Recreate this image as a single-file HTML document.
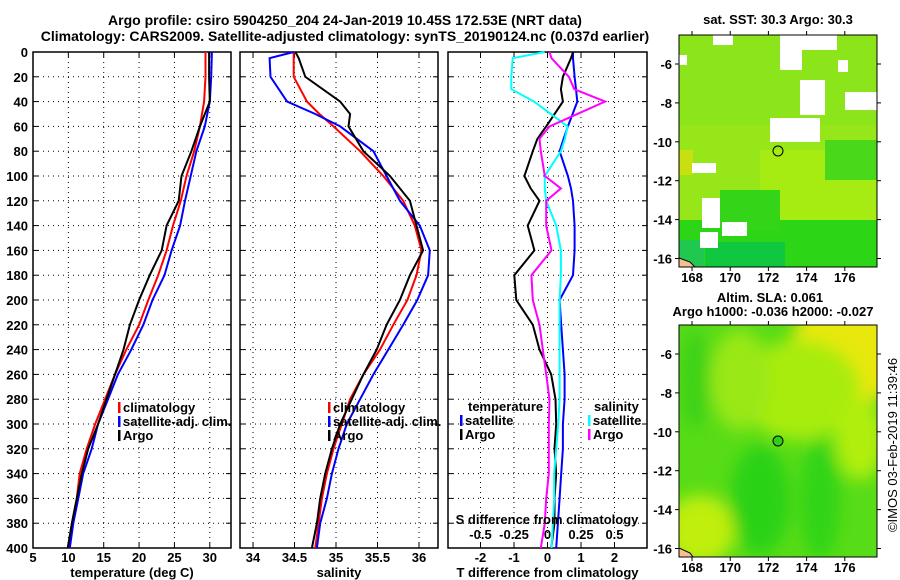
<!DOCTYPE html>
<html><head><meta charset="utf-8">
<style>
body{margin:0;background:#fff;}
svg{display:block;font-family:"Liberation Sans",sans-serif;font-weight:bold;}
text{font-size:13px;fill:#000;}
</style></head>
<body>
<svg id="fig" width="900" height="580" viewBox="0 0 900 580" xmlns="http://www.w3.org/2000/svg">
<text x="345" y="25" text-anchor="middle" style="font-size:14px">Argo profile: csiro 5904250_204 24-Jan-2019 10.45S 172.53E (NRT data)</text>
<text x="345" y="41" text-anchor="middle" style="font-size:14px">Climatology: CARS2009. Satellite-adjusted climatology: synTS_20190124.nc (0.037d earlier)</text>
<g id="maps">
  <defs>
    <clipPath id="c1"><rect x="679" y="35" width="198" height="232"/></clipPath>
    <clipPath id="c2"><rect x="679" y="325" width="198" height="232"/></clipPath>
    <filter id="bl"><feGaussianBlur stdDeviation="8"/></filter>
  </defs>
  <g clip-path="url(#c1)">
    <rect x="679" y="35" width="198" height="232" fill="#96e61a"/>
    <rect x="679" y="35" width="198" height="90" fill="#8ce41a"/>
    <rect x="760" y="150" width="117" height="70" fill="#a6ec12"/>
    <rect x="679" y="220" width="198" height="47" fill="#2cd616"/>
    <rect x="720" y="190" width="60" height="40" fill="#34d418"/>
    <rect x="825" y="140" width="52" height="40" fill="#4ad81a"/>
    <rect x="679" y="150" width="14" height="25" fill="#c8e010"/>
    <rect x="705" y="242" width="80" height="25" fill="#10c840"/>
    <rect x="679" y="240" width="25" height="27" fill="#20c850"/>
    <g fill="#fff">
      <rect x="713" y="35" width="20" height="10"/><rect x="679" y="55" width="8" height="10"/>
      <rect x="780" y="35" width="22" height="35"/><rect x="802" y="35" width="35" height="15"/>
      <rect x="800" y="80" width="25" height="35"/><rect x="770" y="118" width="50" height="24"/>
      <rect x="845" y="92" width="32" height="18"/><rect x="702" y="198" width="18" height="30"/>
      <rect x="722" y="222" width="25" height="14"/><rect x="692" y="163" width="24" height="10"/>
      <rect x="700" y="232" width="18" height="16"/><rect x="838" y="60" width="10" height="12"/>
    </g>
    <path d="M679 258 L690 262 L695 267 L679 267Z" fill="#f4c090" stroke="#000"/>
  </g>
  <rect x="679" y="35" width="198" height="232" fill="none" stroke="#000"/>
  <circle cx="778" cy="151" r="5" fill="none" stroke="#000"/>
  <g clip-path="url(#c2)">
    <rect x="679" y="325" width="198" height="232" fill="#58dc18"/>
    <g filter="url(#bl)">
      <ellipse cx="850" cy="350" rx="60" ry="55" fill="#e8e808"/>
      <ellipse cx="800" cy="390" rx="60" ry="50" fill="#a8ec10"/>
      <ellipse cx="740" cy="380" rx="30" ry="50" fill="#9ae814"/>
      <ellipse cx="860" cy="440" rx="25" ry="40" fill="#b0ee10"/>
      <ellipse cx="700" cy="530" rx="35" ry="35" fill="#c0ee10"/>
      <ellipse cx="760" cy="500" rx="30" ry="55" fill="#2cd218"/>
      <ellipse cx="820" cy="500" rx="20" ry="60" fill="#30d418"/>
      <ellipse cx="695" cy="380" rx="15" ry="50" fill="#3cd218"/>
    </g>
    <path d="M679 548 L690 553 L693 557 L679 557Z" fill="#f4c090" stroke="#000"/>
  </g>
  <rect x="679" y="325" width="198" height="232" fill="none" stroke="#000"/>
  <circle cx="778" cy="441" r="5" fill="#30d018" stroke="#000"/>
  <text x="778" y="24" text-anchor="middle">sat. SST: 30.3 Argo: 30.3</text>
  <text x="770" y="302" text-anchor="middle">Altim. SLA: 0.061</text>
  <text x="773" y="316" text-anchor="middle">Argo h1000: -0.036 h2000: -0.027</text>
  <text transform="translate(897,445) rotate(-90)" text-anchor="middle" style="font-weight:normal">©IMOS 03-Feb-2019 11:39:46</text>
</g>
</svg>
<script>
const depths = [0,20,40,60,80,100,120,140,160,180,200,220,240,260,280,300,320,340,360,380,400];
const tempClim = [29.4,29.4,29.2,28.6,27.8,26.7,25.9,24.8,23.9,22.7,21.3,20.0,18.2,16.6,15.2,13.8,12.6,11.6,11.2,10.5,10.0];
const tempSat = [30.3,30.2,30.0,29.3,28.1,27.3,26.5,25.8,24.6,23.6,21.9,20.6,18.9,17.0,15.6,14.2,13.3,12.1,11.4,10.7,10.2];
const tempArgo = [29.9,29.9,30.0,28.6,27.4,26.0,25.6,23.9,23.2,21.5,20.0,18.7,17.8,16.6,15.4,14.2,12.8,11.9,11.2,10.5,9.9];
const salDepths = [0,5,20,40,50,60,80,100,120,140,160,180,200,220,240,260,280,300,320,340,360,380,400];
const salClim = [34.49,34.49,34.49,34.65,34.80,34.97,35.29,35.57,35.81,35.95,36.03,35.97,35.86,35.69,35.53,35.33,35.17,35.07,34.97,34.89,34.83,34.79,34.75];
const salSat = [34.49,34.20,34.21,34.41,34.75,35.05,35.45,35.61,35.77,36.01,36.13,36.11,35.98,35.81,35.63,35.45,35.29,35.13,35.03,34.95,34.89,34.81,34.77];
const salArgo = [34.51,34.55,34.63,35.05,35.17,35.15,35.33,35.65,35.89,35.97,36.05,35.89,35.77,35.61,35.49,35.33,35.19,35.05,34.95,34.87,34.81,34.77,34.71];
const diffDepths = [0,5,20,30,40,60,70,80,100,110,120,140,160,180,200,220,240,260,280,300,320,340,360,380,400];
const dTSat = [0.76,0.76,0.81,0.85,0.89,0.61,0.48,0.36,0.61,0.70,0.76,0.81,0.81,0.76,0.36,0.41,0.46,0.51,0.51,0.46,0.46,0.41,0.36,0.31,0.26];
const dTArgo = [0.76,0.70,0.46,0.40,0.46,-0.04,-0.30,-0.44,-0.69,-0.50,-0.24,-0.59,-0.39,-0.99,-0.93,-0.44,-0.24,0.11,0.24,0.26,0.21,0.26,0.21,0.21,0.11];
const dSSat = [-0.022,-0.26,-0.27,-0.27,-0.10,0.15,0.13,0.10,-0.02,-0.02,-0.01,0.065,0.10,0.10,0.09,0.09,0.09,0.09,0.09,0.08,0.065,0.05,0.05,0.04,0.03];
const dSArgo = [0.015,0.03,0.16,0.20,0.43,0.015,-0.06,-0.05,-0.02,0.10,-0.01,-0.01,0.03,-0.12,-0.11,-0.06,-0.035,-0.01,0.015,0.01,0.01,0.01,-0.01,-0.02,-0.05];
const depthTicks = [0,20,40,60,80,100,120,140,160,180,200,220,240,260,280,300,320,340,360,380,400];
const tTicks = [5,10,15,20,25,30];
const sTicks = [34,34.5,35,35.5,36];
const dTTicks = [-2,-1,0,1,2];
const dSTicks = [-0.5,-0.25,0,0.25,0.5];
const dSLabels = ["-0.5","-0.25","0","0.25","0.5"];

const NS = "http://www.w3.org/2000/svg";
const svg = document.getElementById('fig');
const Y0 = 52, Y1 = 548;
const yS = d => Y0 + (d/400)*(Y1-Y0);
function mk(tag, attrs, parent){
  const e = document.createElementNS(NS, tag);
  for (const k in attrs) e.setAttribute(k, attrs[k]);
  (parent||svg).appendChild(e);
  return e;
}
function panel(name, x0, x1, vmin, vmax, ticks, labels, xlabel){
  const g = mk('g', {});
  
  
  const xs = v => x0 + (v - vmin)/(vmax - vmin)*(x1 - x0);
  depthTicks.forEach(d => {
    if (d>0 && d<400) {
      const l = mk('line', {x1:x0, x2:x1, y1:yS(d), y2:yS(d), stroke:'#000', 'stroke-dasharray':'1 4'}, g);
      
      
    }
    mk('line', {x1:x0, x2:x0+5, y1:yS(d), y2:yS(d), stroke:'#000'}, g);
    mk('line', {x1:x1-5, x2:x1, y1:yS(d), y2:yS(d), stroke:'#000'}, g);
  });
  ticks.forEach((v,i) => {
    const x = xs(v);
    if (x > x0+1 && x < x1-1) {
      const l = mk('line', {x1:x, x2:x, y1:Y0, y2:Y1, stroke:'#000', 'stroke-dasharray':'1 4'}, g);
      
      
    }
    mk('line', {x1:x, x2:x, y1:Y1-5, y2:Y1, stroke:'#000'}, g);
    mk('line', {x1:x, x2:x, y1:Y0, y2:Y0+5, stroke:'#000'}, g);
    const t = mk('text', {x:x, y:562, 'text-anchor':'middle'}, g);
    t.textContent = labels ? labels[i] : String(v);
    
    
  });
  const fr = mk('rect', {x:x0, y:Y0, width:x1-x0, height:Y1-Y0, fill:'none', stroke:'#000', 'stroke-width':1.5}, g);
  
  
  const xl = mk('text', {x:(x0+x1)/2, y:577, 'text-anchor':'middle'}, g);
  xl.textContent = xlabel;
  
  
  return {g, xs};
}
function line(p, ds, vals, color, name, w){
  const pts = vals.map((v,i) => p.xs(v).toFixed(1)+','+yS(ds[i]).toFixed(1)).join(' ');
  const l = mk('polyline', {points:pts, fill:'none', stroke:color, 'stroke-width':w||2}, p.g);
  
  
}
function legend(g, x, y, items){
  items.forEach((it,i) => {
    const yy = y + i*14;
    mk('rect', {x:x, y:yy-10, width:2.5, height:11, fill:it[1]}, g);
    const t = mk('text', {x:x+5, y:yy}, g);
    t.textContent = it[0];
    
    
  });
}
depthTicks.forEach(d => {
  const t = mk('text', {x:28, y:yS(d)+5, 'text-anchor':'end'});
  t.textContent = d;
  
  
});
const p1 = panel('temperature-panel', 33, 231, 5, 33, tTicks, null, 'temperature (deg C)');
line(p1, depths, tempClim, '#f00', 'temp-climatology-line');
line(p1, depths, tempSat, '#00f', 'temp-satellite-line');
line(p1, depths, tempArgo, '#000', 'temp-argo-line');
legend(p1.g, 118, 412, [['climatology','#f00'],['satellite-adj. clim.','#00f'],['Argo','#000']]);

const p2 = panel('salinity-panel', 240, 438, 33.843, 36.229, sTicks, null, 'salinity');
line(p2, salDepths, salClim, '#f00', 'sal-climatology-line');
line(p2, salDepths, salSat, '#00f', 'sal-satellite-line');
line(p2, salDepths, salArgo, '#000', 'sal-argo-line');
legend(p2.g, 328, 412, [['climatology','#f00'],['satellite-adj. clim.','#00f'],['Argo','#000']]);

const p3 = panel('difference-panel', 448, 647, -2.97, 2.97, dTTicks, null, 'T difference from climatology');
const p3s = {g:p3.g, xs: v => p3.xs(v*4)};
line(p3, diffDepths, dTSat, '#00f', 'tdiff-satellite-line', 2);
line(p3, diffDepths, dTArgo, '#000', 'tdiff-argo-line', 2);
line(p3s, diffDepths, dSSat, '#0ff', 'sdiff-satellite-line', 2);
line(p3s, diffDepths, dSArgo, '#f0f', 'sdiff-argo-line', 2);
dSTicks.forEach((v,i) => {
  const t = mk('text', {x:p3s.xs(v), y:539, 'text-anchor':'middle'}, p3.g);
  t.textContent = dSLabels[i];
  
  
});
const st = mk('text', {x:547, y:524, 'text-anchor':'middle'}, p3.g);
st.textContent = 'S difference from climatology';


const h1 = mk('text', {x:468, y:411}, p3.g);
h1.textContent = 'temperature';


const h2 = mk('text', {x:594, y:411}, p3.g);
h2.textContent = 'salinity';


legend(p3.g, 460, 425, [['satellite','#00f'],['Argo','#000']]);
legend(p3.g, 588, 425, [['satellite','#0ff'],['Argo','#f0f']]);

const lonTicks = [168,170,172,174,176];
const latTicks = [-6,-8,-10,-12,-14,-16];
const lonX = lon => 692 + (lon-168)*19.1;
[[35,267,64],[325,557,354]].forEach(([top,bot,y6]) => {
  lonTicks.forEach(lo => {
    mk('line', {x1:lonX(lo), x2:lonX(lo), y1:top-4, y2:top, stroke:'#000'});
    mk('line', {x1:lonX(lo), x2:lonX(lo), y1:bot, y2:bot+4, stroke:'#000'});
    const t = mk('text', {x:lonX(lo), y:bot+15, 'text-anchor':'middle'});
    t.textContent = lo;
    
    
  });
  latTicks.forEach(la => {
    const y = y6 + (-6-la)*19.45;
    mk('line', {x1:675, x2:679, y1:y, y2:y, stroke:'#000'});
    mk('line', {x1:877, x2:881, y1:y, y2:y, stroke:'#000'});
    const t = mk('text', {x:672, y:y+5, 'text-anchor':'end'});
    t.textContent = la;
    
    
  });
});
</script>
</body></html>
